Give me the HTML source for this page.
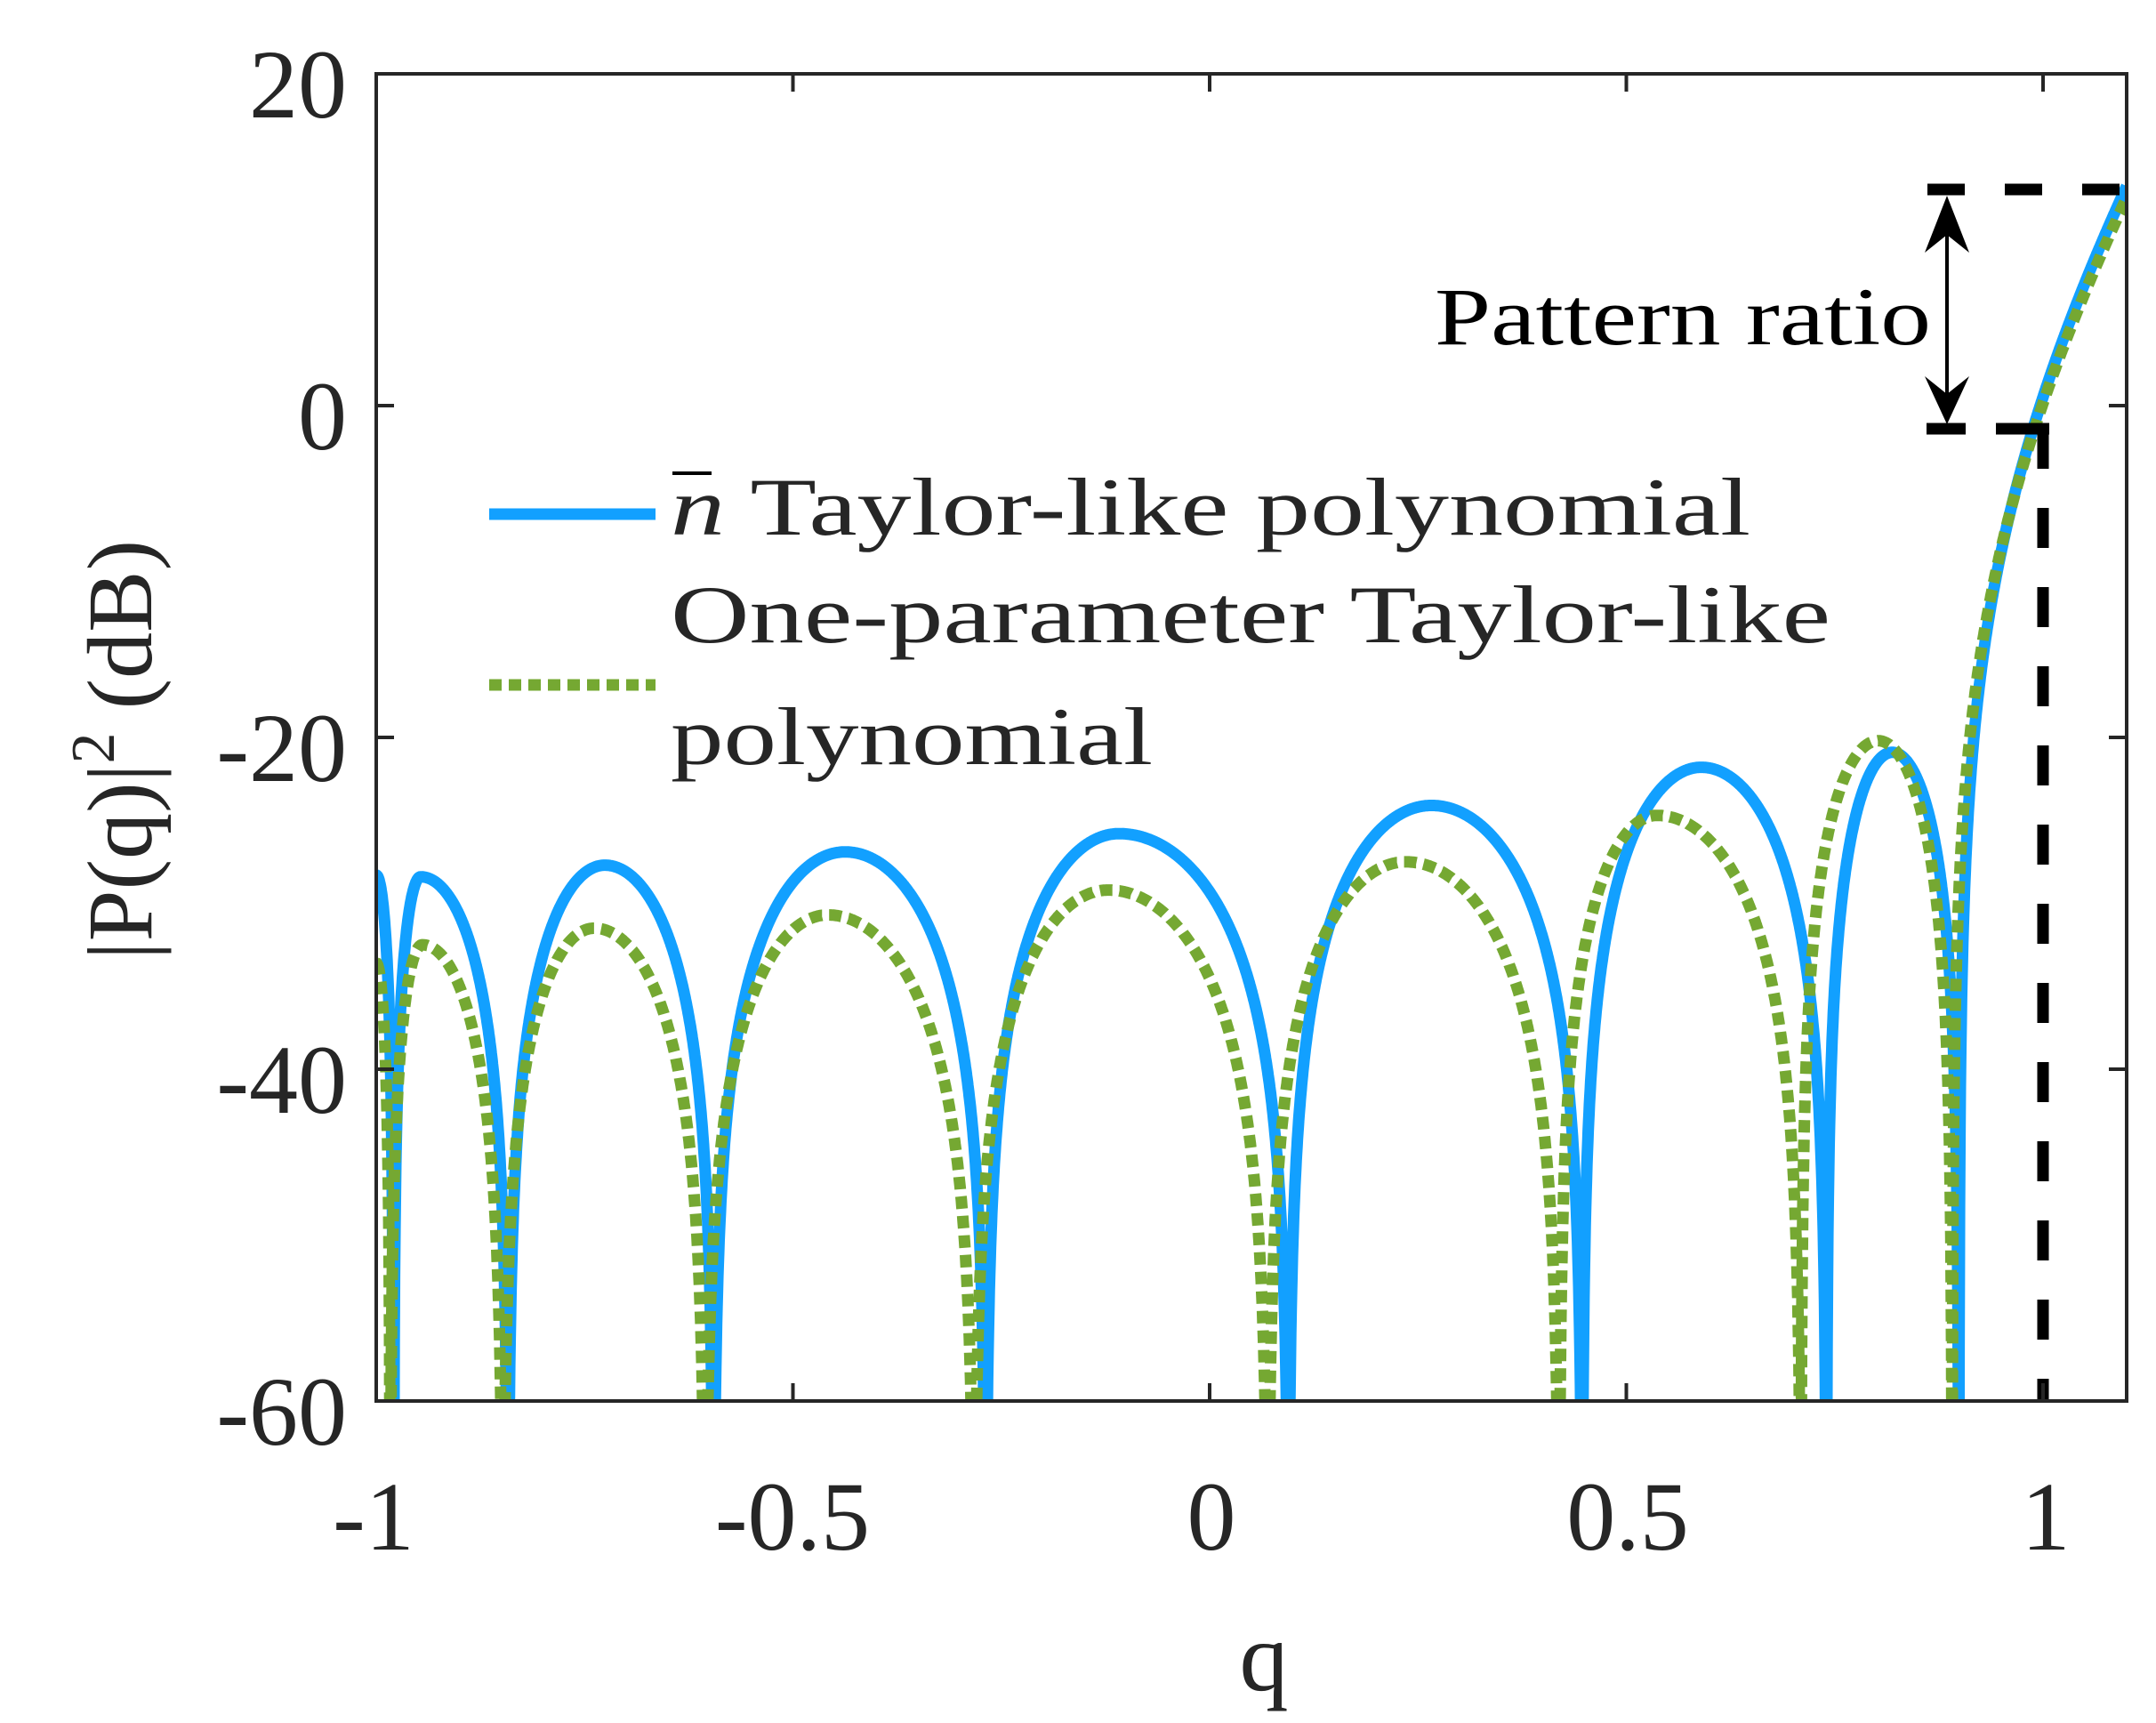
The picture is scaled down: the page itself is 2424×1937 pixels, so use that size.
<!DOCTYPE html>
<html><head><meta charset="utf-8"><style>
html,body{margin:0;padding:0;background:#fff}
svg{display:block}
text{font-family:"Liberation Serif",serif;fill:#262626}
</style></head><body>
<svg id="s" width="2424" height="1937" viewBox="0 0 2424 1937" xmlns="http://www.w3.org/2000/svg">
<defs><clipPath id="c"><rect x="423" y="83" width="1968" height="1492"/></clipPath></defs>
<rect width="2424" height="1937" fill="#fff"/>
<g id="curves" clip-path="url(#c)"></g>
<g stroke="#000" stroke-width="13" fill="none">
<line x1="2167" y1="213" x2="2391" y2="213" stroke-dasharray="42 45"/>
<line x1="2244" y1="482" x2="2304" y2="482"/>
<line x1="2297" y1="482" x2="2297" y2="1575" stroke-dasharray="45 44"/>
<line x1="2166" y1="482" x2="2210" y2="482"/>
</g>
<line x1="2189" y1="240" x2="2189" y2="455" stroke="#000" stroke-width="4"/>
<polygon points="2189,220 2214,284 2189,264 2164,284" fill="#000"/>
<polygon points="2189,477 2214,423 2189,443 2164,423" fill="#000"/>
<text x="1613" y="387" font-size="92" style="fill:#000" textLength="558" lengthAdjust="spacingAndGlyphs">Pattern ratio</text>
<g stroke="#262626" stroke-width="4" fill="none">
<rect x="423" y="83" width="1968" height="1492"/>
<path d="M423,1575v-20M891.5,1575v-20M1360,1575v-20M1828.5,1575v-20M2297,1575v-20M423,83v20M891.5,83v20M1360,83v20M1828.5,83v20M2297,83v20M423,83h20M423,456h20M423,829h20M423,1202h20M423,1575h20M2391,83h-20M2391,456h-20M2391,829h-20M2391,1202h-20M2391,1575h-20"/>
</g>
<g font-size="110" text-anchor="end">
<text x="390" y="132">20</text>
<text x="390" y="505">0</text>
<text x="390" y="878">-20</text>
<text x="390" y="1251">-40</text>
<text x="390" y="1624">-60</text>
</g>
<g font-size="110" text-anchor="middle">
<text x="420" y="1742">-1</text>
<text x="891" y="1742">-0.5</text>
<text x="1362" y="1742">0</text>
<text x="1830" y="1742">0.5</text>
<text x="2300" y="1742">1</text>
<text x="1421" y="1900">q</text>
</g>
<text transform="translate(170,843) rotate(-90)" font-size="104" text-anchor="middle">|P(q)|<tspan font-size="70" dy="-42">2</tspan><tspan dy="42"> (dB)</tspan></text>
<line x1="550" y1="578" x2="737" y2="578" stroke="#12a0ff" stroke-width="13"/>
<line x1="550" y1="770" x2="737" y2="770" stroke="#75a832" stroke-width="13" stroke-dasharray="14 8"/>
<g font-size="92" style="fill:#000">
<text x="754" y="601" textLength="1214" lengthAdjust="spacingAndGlyphs"><tspan font-style="italic">n</tspan> Taylor-like polynomial</text>
<text x="754" y="722" textLength="1304" lengthAdjust="spacingAndGlyphs">One-parameter Taylor-like</text>
<text x="754" y="859" textLength="542" lengthAdjust="spacingAndGlyphs">polynomial</text>
</g>
<line x1="756" y1="532" x2="800" y2="532" stroke="#000" stroke-width="4"/>
</svg>
<script>
(function(){
var X=function(q){return 423+(q+1)*937;}, Y=function(d){return 456-d*18.65;};
var F=0.987;
function c(q){return -1+(q+1)*F;}
function build(nulls,peaks,start,endVal,k){
 nulls=nulls.map(c);peaks=peaks.map(function(p){return [c(p[0]),p[1]];});
 var pts=[];
 var n0=nulls[0];
 for(var q=-1;q<n0;q+=0.0005){var t=(q+1)/(n0+1);var cc=Math.cos(Math.PI/2*t);pts.push([q,start+20*Math.log10(Math.max(cc,1e-6))]);}
 pts.push([n0,-200]);
 for(var i=0;i<peaks.length;i++){
  var a=nulls[i],b=nulls[i+1],p=peaks[i][0],P=peaks[i][1];
  for(var q=a+0.0003;q<b;q+=0.0005){
   var u=q<p?0.5*(q-a)/(p-a):0.5+0.5*(q-p)/(b-p);
   var s=Math.sin(Math.PI*u);pts.push([q,P+20*Math.log10(Math.max(s,1e-6))]);
  }
  pts.push([b,-200]);
 }
 var n=nulls[nulls.length-1],C=endVal-k*(1.1-n);
 for(var q=n+0.0003;q<=1.1005;q+=0.0005){pts.push([q,C+20*Math.log10((q-n)/(1.1-n))+k*(q-n)]);}
 return pts.map(function(p,i){var y=Math.min(Y(p[1]),1700);return (i?'L':'M')+X(p[0]).toFixed(1)+','+y.toFixed(1);}).join('');
}
var bn=[-0.979,-0.84,-0.59,-0.259,0.109,0.466,0.763,0.924];
var bp=[[-0.946,-28.4],[-0.722,-27.7],[-0.43,-26.9],[-0.097,-25.8],[0.283,-24.1],[0.611,-21.8],[0.843,-20.9]];
var gn=[-0.983,-0.846,-0.60,-0.273,0.084,0.438,0.732,0.916];
var gp=[[-0.944,-32.5],[-0.735,-31.5],[-0.451,-30.7],[-0.11,-29.2],[0.252,-27.5],[0.557,-24.7],[0.826,-20.2]];
var g=document.getElementById('curves'),ns='http://www.w3.org/2000/svg';
var p1=document.createElementNS(ns,'path');p1.setAttribute('d',build(bn,bp,-28.3,13.2,67));
p1.setAttribute('fill','none');p1.setAttribute('stroke','#12a0ff');p1.setAttribute('stroke-width','13');p1.setAttribute('stroke-linejoin','round');
var p2=document.createElementNS(ns,'path');p2.setAttribute('d',build(gn,gp,-33.6,12.5,67));
p2.setAttribute('fill','none');p2.setAttribute('stroke','#75a832');p2.setAttribute('stroke-width','13');p2.setAttribute('stroke-dasharray','14 8');
g.appendChild(p1);g.appendChild(p2);
})();
</script>
</body></html>
